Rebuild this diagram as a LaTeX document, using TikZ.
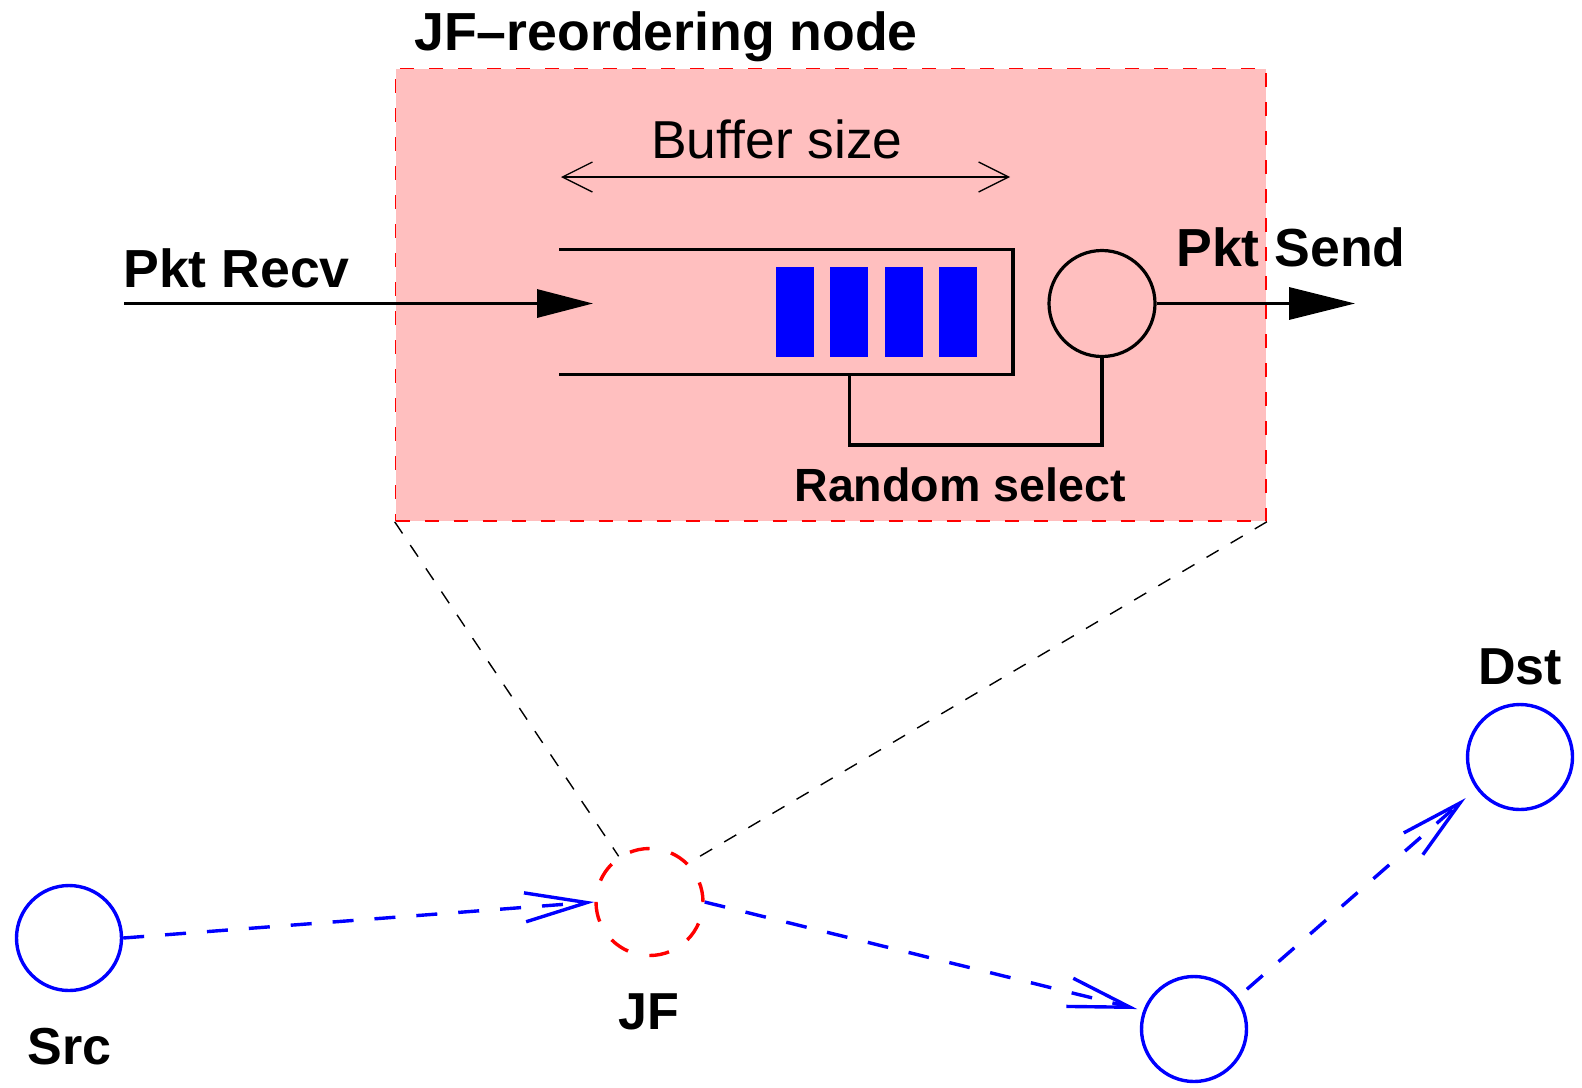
\documentclass[tikz,border=0pt]{standalone}
\usepackage{fontspec}
\setmainfont{Liberation Sans}
\usetikzlibrary{arrows.meta,calc,fit,positioning}
\definecolor{JFPink}{HTML}{FFBFBF}
\definecolor{JFRed}{HTML}{FF0000}
\definecolor{JFBlue}{HTML}{0000FF}

\begin{document}
\begin{tikzpicture}[
      x=0.5pt,y=-0.5pt,
      host/.style={circle,draw=JFBlue,line width=1.7pt,minimum size=52.5pt,inner sep=0pt},
      jfnode/.style={circle,draw=JFRed,line width=1.7pt,dash pattern=on 10pt off 11pt,minimum size=53.5pt,inner sep=0pt},
      server/.style={circle,draw,line width=1.6pt,minimum size=53pt,inner sep=0pt},
      zoombox/.style={draw=JFRed,fill=JFPink,line width=0.8pt,dash pattern=on 7pt off 7.5pt,inner sep=0pt},
      pipe/.style={line width=1.6pt},
      pkt/.style={fill=JFBlue},
      flow/.style={line width=1.6pt,-{Triangle[length=28pt,width=14pt]}},
      span/.style={line width=0.65pt,{Straight Barb[length=15pt,width=15pt]}-{Straight Barb[length=15pt,width=15pt]}},
      link/.style={JFBlue,line width=1.7pt,dash pattern=on 10.5pt off 10.5pt,-{Straight Barb[length=31pt,width=14.5pt]}},
      zoomline/.style={line width=0.7pt,dash pattern=on 7pt off 7pt},
      lbl/.style={font=\bfseries\fontsize{26.8}{32}\selectfont,inner sep=0pt},
      slbl/.style={font=\bfseries\fontsize{23.3}{28}\selectfont,inner sep=0pt},
      nlbl/.style={font=\bfseries\fontsize{26}{31}\selectfont,inner sep=0pt}
    ]
      \useasboundingbox (0,0) rectangle (1582,1087);
      \coordinate (boxNW) at (395.5,68.5);
      \coordinate (boxSE) at (1266,521);
      \node[zoombox,fit=(boxNW)(boxSE)] (box) {};
      \node[lbl,anchor=base west] (title) at (414,50.5) {JF--reordering node};
      \coordinate (bufL) at (561,177);
      \coordinate (bufR) at (1010,177);
      \draw[span] (bufL) -- (bufR);
      \node[anchor=base,inner sep=0pt,font=\fontsize{26.7}{32}\selectfont] (buflbl) at (777,158.5) {Buffer size};
      \coordinate (qTL) at (559,249.5);
      \coordinate (qBR) at (1013,374.5);
      \draw[pipe] (qTL) -| (qBR) -- (qTL |- qBR);
      \foreach \k in {0,...,3}
        \fill[pkt] ({775.5+54.5*\k},267) rectangle ++(38,90);
      \node[server] (srv) at (1102,303.5) {};
      \coordinate (qtap) at (849.5,374.5);
      \coordinate (selbot) at (0,445);
      \draw[pipe] (qtap) -- (qtap |- selbot) -| (srv.south);
      \node[slbl,anchor=base west] (rsel) at (794,501) {Random select};
      \coordinate (inA) at (124,303.5);
      \coordinate (inB) at (593,303.5);
      \draw[flow] (inA) -- (inB);
      \coordinate (outB) at (1355,303.5);
      \draw[flow,-{Triangle[length=33pt,width=16pt]}] (srv.east) -- (outB);
      \node[lbl,anchor=base west] (recv) at (123,287.5) {Pkt Recv};
      \node[lbl,anchor=base west] (send) at (1176,266.5) {Pkt Send};
      \node[host] (src) at (69,938) {};
      \node[jfnode] (jf) at (649.5,902) {};
      \node[host] (mid) at (1194,1029) {};
      \node[host] (dst) at (1520,757) {};
      \node[nlbl,anchor=base] (srclbl) at (69.5,1064) {Src};
      \node[nlbl,anchor=base] (jflbl) at (648.5,1029) {JF};
      \node[nlbl,anchor=base] (dstlbl) at (1520,684) {Dst};
      \draw[zoomline] (box.south west) -- (jf.124);
      \draw[zoomline] (box.south east) -- (jf.45);
      \draw[link] (src.east) -- (jf.west);
      \draw[link,shorten >=3pt] (jf.east) -- (mid.160);
      \draw[link,shorten <=6pt,shorten >=7pt] (mid.36) -- (dst.216);
    \end{tikzpicture}
\end{document}
